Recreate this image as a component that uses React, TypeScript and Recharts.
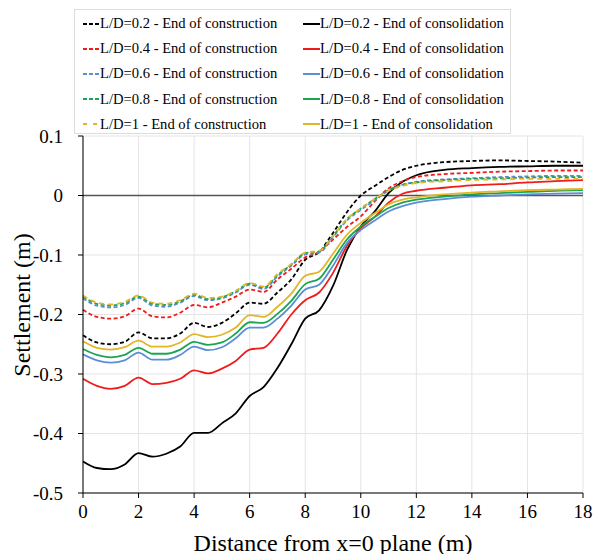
import React from 'react';
import { LineChart, Line, XAxis, YAxis, CartesianGrid, ReferenceLine } from 'recharts';

// distance from x=0 plane (m)
const xs = [0, 0.5, 1, 1.5, 2, 2.5, 3, 3.5, 4, 4.5, 5, 5.5, 6, 6.5, 7, 7.5, 8, 8.5, 9, 9.5, 10, 10.5, 11, 11.5, 12, 13, 14, 15, 16, 17, 18];

// end of construction (dashed)
const con02 = [-0.235, -0.247, -0.250, -0.246, -0.230, -0.240, -0.240, -0.232, -0.214, -0.221, -0.214, -0.198, -0.180, -0.182, -0.163, -0.141, -0.108, -0.095, -0.063, -0.028, 0.000, 0.016, 0.031, 0.043, 0.050, 0.056, 0.058, 0.059, 0.058, 0.057, 0.055];
const con04 = [-0.192, -0.204, -0.207, -0.203, -0.190, -0.203, -0.205, -0.197, -0.184, -0.188, -0.180, -0.170, -0.158, -0.162, -0.141, -0.123, -0.104, -0.095, -0.074, -0.053, -0.035, -0.010, 0.012, 0.024, 0.031, 0.036, 0.038, 0.040, 0.041, 0.042, 0.042];
const con06 = [-0.173, -0.185, -0.188, -0.184, -0.172, -0.185, -0.187, -0.180, -0.169, -0.176, -0.173, -0.163, -0.150, -0.157, -0.136, -0.118, -0.099, -0.096, -0.070, -0.042, -0.024, -0.008, 0.008, 0.018, 0.023, 0.027, 0.029, 0.031, 0.032, 0.033, 0.033];
const con08 = [-0.170, -0.182, -0.185, -0.181, -0.170, -0.182, -0.184, -0.178, -0.167, -0.174, -0.171, -0.161, -0.148, -0.155, -0.134, -0.116, -0.097, -0.094, -0.068, -0.040, -0.022, -0.006, 0.009, 0.018, 0.022, 0.026, 0.028, 0.029, 0.030, 0.031, 0.031];
const con1 = [-0.168, -0.180, -0.183, -0.179, -0.168, -0.180, -0.182, -0.176, -0.165, -0.172, -0.170, -0.160, -0.147, -0.153, -0.132, -0.115, -0.096, -0.093, -0.068, -0.040, -0.022, -0.006, 0.008, 0.016, 0.021, 0.024, 0.026, 0.027, 0.028, 0.028, 0.028];

// end of consolidation (solid)
const cons02 = [-0.447, -0.458, -0.460, -0.452, -0.433, -0.439, -0.434, -0.422, -0.399, -0.399, -0.383, -0.366, -0.337, -0.322, -0.290, -0.250, -0.207, -0.193, -0.152, -0.092, -0.052, -0.027, 0.004, 0.023, 0.034, 0.043, 0.046, 0.048, 0.049, 0.050, 0.050];
const cons04 = [-0.308, -0.320, -0.325, -0.320, -0.306, -0.317, -0.315, -0.308, -0.294, -0.299, -0.291, -0.278, -0.259, -0.256, -0.232, -0.200, -0.176, -0.163, -0.130, -0.085, -0.055, -0.036, -0.012, 0.003, 0.008, 0.013, 0.017, 0.019, 0.022, 0.024, 0.026];
const cons06 = [-0.267, -0.277, -0.281, -0.277, -0.264, -0.276, -0.276, -0.268, -0.254, -0.260, -0.255, -0.240, -0.222, -0.222, -0.207, -0.185, -0.158, -0.150, -0.118, -0.080, -0.058, -0.042, -0.027, -0.018, -0.012, -0.006, -0.002, 0.000, 0.002, 0.003, 0.004];
const cons08 = [-0.258, -0.268, -0.272, -0.268, -0.256, -0.266, -0.266, -0.259, -0.246, -0.251, -0.247, -0.232, -0.213, -0.214, -0.199, -0.177, -0.149, -0.140, -0.108, -0.074, -0.052, -0.036, -0.021, -0.012, -0.007, -0.002, 0.002, 0.004, 0.006, 0.008, 0.009];
const cons1 = [-0.245, -0.256, -0.259, -0.255, -0.244, -0.254, -0.254, -0.247, -0.233, -0.238, -0.234, -0.222, -0.201, -0.204, -0.187, -0.165, -0.135, -0.128, -0.098, -0.066, -0.046, -0.030, -0.015, -0.007, -0.003, 0.002, 0.005, 0.007, 0.009, 0.010, 0.011];

const ratios = ['0.2', '0.4', '0.6', '0.8', '1'];
const xTicks = [0, 2, 4, 6, 8, 10, 12, 14, 16, 18];
const yTicks = [-0.5, -0.4, -0.3, -0.2, -0.1, 0, 0.1];

const colors = ['#000000', '#f01c1c', '#5b8ed6', '#1aa550', '#e3b527'];
const conSeries = [con02, con04, con06, con08, con1];
const consSeries = [cons02, cons04, cons06, cons08, cons1];

const data = xs.map((x, i) => {
  const row: any = { x };
  ratios.forEach((r, k) => {
    row['con' + k] = conSeries[k][i];
    row['cons' + k] = consSeries[k][i];
  });
  return row;
});

const FONT = '"Liberation Serif", "Times New Roman", serif';
const dashFor = (k: number) => (k === 4 ? '5 4' : '4 2.5');
const legendDash = (k: number) => (k === 4 ? '4 6' : '4 2');

function LegendItem({ color, dash, label }: { color: string; dash?: string; label: string }) {
  return (
    <div style={{ display: 'flex', alignItems: 'center', height: 25.2 }}>
      <svg width={17} height={6} style={{ flexShrink: 0 }}>
        <line x1={0} y1={3} x2={17} y2={3} stroke={color} strokeWidth={2} strokeDasharray={dash} />
      </svg>
      <span style={{ whiteSpace: 'nowrap' }}>{label}</span>
    </div>
  );
}

export default function App() {
  return (
    <div style={{ position: 'absolute', left: 0, top: 0, width: 595, height: 554, background: '#fff', fontFamily: FONT, color: '#000' }}>
      <LineChart width={595} height={554} data={data} margin={{ top: 136, right: 12, bottom: 31, left: 0 }}>
        <CartesianGrid stroke="#e4e4e4" />
        <XAxis
          dataKey="x"
          type="number"
          domain={[0, 18]}
          ticks={xTicks}
          height={30}
          tickSize={5}
          tickMargin={7}
          stroke="#000"
          tick={{ fill: '#000', fontSize: 19, fontFamily: FONT }}
        />
        <YAxis
          type="number"
          domain={[-0.5, 0.1]}
          ticks={yTicks}
          width={83}
          tickSize={5}
          tickMargin={15}
          stroke="#000"
          tickFormatter={(v: number) => (v === 0 ? '0' : v.toFixed(1))}
          tick={{ fill: '#000', fontSize: 19, fontFamily: FONT }}
        />
        <ReferenceLine y={0} stroke="#555" strokeWidth={1.6} />
        {ratios.map((r, k) => (
          <Line key={'s' + k} type="monotone" dataKey={'cons' + k} stroke={colors[k]} strokeWidth={1.8} dot={false} isAnimationActive={false} />
        ))}
        {ratios.map((r, k) => (
          <Line key={'d' + k} type="monotone" dataKey={'con' + k} stroke={colors[k]} strokeWidth={1.8} strokeDasharray={dashFor(k)} dot={false} isAnimationActive={false} />
        ))}
      </LineChart>

      {/* legend box */}
      <div style={{ position: 'absolute', left: 74, top: 9, width: 437, height: 125, border: '1px solid #dcdcdc', background: '#fff', boxSizing: 'border-box', fontSize: 14.6 }}>
        <div style={{ position: 'absolute', left: 8, top: 1 }}>
          {ratios.map((r, k) => (
            <LegendItem key={k} color={colors[k]} dash={legendDash(k)} label={`L/D=${r} - End of construction`} />
          ))}
        </div>
        <div style={{ position: 'absolute', left: 228, top: 1 }}>
          {ratios.map((r, k) => (
            <LegendItem key={k} color={colors[k]} label={`L/D=${r} - End of consolidation`} />
          ))}
        </div>
      </div>

      {/* axis titles */}
      <div style={{ position: 'absolute', left: 22, top: 305, transform: 'translate(-50%, -50%) rotate(-90deg)', whiteSpace: 'nowrap', fontSize: 24 }}>
        Settlement (m)
      </div>
      <div style={{ position: 'absolute', left: 333, top: 543, transform: 'translate(-50%, -50%)', whiteSpace: 'nowrap', fontSize: 24 }}>
        Distance from x=0 plane (m)
      </div>
    </div>
  );
}
